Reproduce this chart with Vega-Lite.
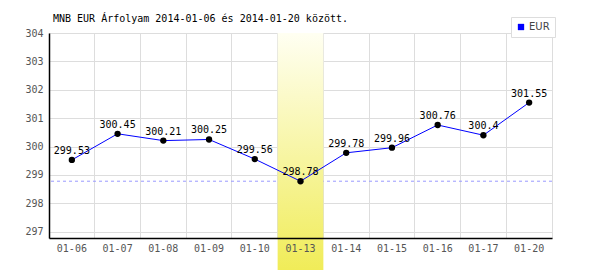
{
  "$schema": "https://vega.github.io/schema/vega-lite/v6.json",
  "width": 503,
  "height": 205,
  "autosize": {"type": "none"},
  "padding": {"left": 49, "top": 33, "right": 48, "bottom": 32},
  "background": "white",
  "title": {
    "text": "MNB EUR Árfolyam 2014-01-06 és 2014-01-20 között.",
    "anchor": "start",
    "frame": "group",
    "dx": 4,
    "offset": -15,
    "baseline": "alphabetic",
    "font": "DejaVu Sans Mono",
    "fontSize": 10,
    "fontWeight": "normal",
    "color": "black"
  },
  "config": {
    "view": {"stroke": "#dddddd", "strokeWidth": 1}
  },
  "data": {
    "values": [
      {"date": "01-06", "rate": 299.53, "series": "EUR", "label": "299.53"},
      {"date": "01-07", "rate": 300.45, "series": "EUR", "label": "300.45"},
      {"date": "01-08", "rate": 300.21, "series": "EUR", "label": "300.21"},
      {"date": "01-09", "rate": 300.25, "series": "EUR", "label": "300.25"},
      {"date": "01-10", "rate": 299.56, "series": "EUR", "label": "299.56"},
      {"date": "01-13", "rate": 298.78, "series": "EUR", "label": "298.78"},
      {"date": "01-14", "rate": 299.78, "series": "EUR", "label": "299.78"},
      {"date": "01-15", "rate": 299.96, "series": "EUR", "label": "299.96"},
      {"date": "01-16", "rate": 300.76, "series": "EUR", "label": "300.76"},
      {"date": "01-17", "rate": 300.4, "series": "EUR", "label": "300.4"},
      {"date": "01-20", "rate": 301.55, "series": "EUR", "label": "301.55"}
    ]
  },
  "layer": [
    {
      "mark": {"type": "rule", "color": "#9999ff", "strokeDash": [3, 3], "strokeWidth": 1},
      "encoding": {
        "y": {"aggregate": "min", "field": "rate", "type": "quantitative", "axis": null,
              "scale": {"domain": [296.78, 304], "nice": false, "zero": false}}
      }
    },
    {
      "transform": [{"filter": "datum.date === '01-13'"}],
      "mark": {
        "type": "rect",
        "color": {
          "gradient": "linear",
          "x1": 0, "y1": 0, "x2": 0, "y2": 1,
          "stops": [
            {"offset": 0, "color": "#fffff2"},
            {"offset": 1, "color": "#f0ec58"}
          ]
        }
      },
      "encoding": {
        "x": {"field": "date", "type": "ordinal", "axis": null,
              "scale": {"type": "band", "paddingInner": 0, "paddingOuter": 0}},
        "y": {"datum": 304, "type": "quantitative", "axis": null},
        "y2": {"datum": 295.65}
      }
    },
    {
      "mark": {"type": "line", "strokeWidth": 1},
      "encoding": {
        "x": {"field": "date", "type": "ordinal",
              "axis": {"grid": true, "gridColor": "#dddddd", "bandPosition": 0, "labels": false, "domain": false, "ticks": false, "title": null, "zindex": 0}},
        "y": {"field": "rate", "type": "quantitative",
              "axis": {"grid": true, "gridColor": "#dddddd", "values": [297, 298, 299, 300, 301, 302, 303, 304], "labels": false, "domain": false, "ticks": false, "title": null, "zindex": 0}},
        "color": {
          "field": "series", "type": "nominal",
          "scale": {"range": ["#0000ff"]},
          "legend": {
            "title": null,
            "orient": "none",
            "legendX": 462,
            "legendY": -16,
            "padding": 5,
            "strokeColor": "#dddddd",
            "fillColor": "white",
            "symbolType": "square",
            "symbolSize": 40,
            "symbolFillColor": "#0000ff",
            "symbolStrokeWidth": 0,
            "labelFont": "DejaVu Sans",
            "labelFontSize": 10,
            "labelColor": "#444444",
            "labelOffset": 3
          }
        }
      }
    },
    {
      "mark": {"type": "circle", "color": "black", "opacity": 1, "size": 40},
      "encoding": {
        "x": {"field": "date", "type": "ordinal", "axis": null},
        "y": {"field": "rate", "type": "quantitative", "axis": null}
      }
    },
    {
      "mark": {"type": "text", "font": "DejaVu Sans Mono", "fontSize": 10, "color": "black", "baseline": "alphabetic", "dy": -6},
      "encoding": {
        "x": {"field": "date", "type": "ordinal",
              "axis": {"grid": false, "orient": "bottom", "title": null, "labelAngle": 0, "labelFont": "DejaVu Sans Mono", "labelFontSize": 10, "labelColor": "#555555", "labelPadding": 5, "ticks": false, "domainColor": "black", "domainWidth": 1.5, "zindex": 1}},
        "y": {"field": "rate", "type": "quantitative",
              "axis": {"grid": false, "orient": "left", "title": null, "values": [297, 298, 299, 300, 301, 302, 303, 304], "labelFont": "DejaVu Sans Mono", "labelFontSize": 10, "labelColor": "#555555", "labelPadding": 6, "ticks": false, "domainColor": "black", "domainWidth": 1.5, "zindex": 1}},
        "text": {"field": "label"}
      }
    }
  ],
  "resolve": {"axis": {"x": "independent", "y": "independent"}}
}
